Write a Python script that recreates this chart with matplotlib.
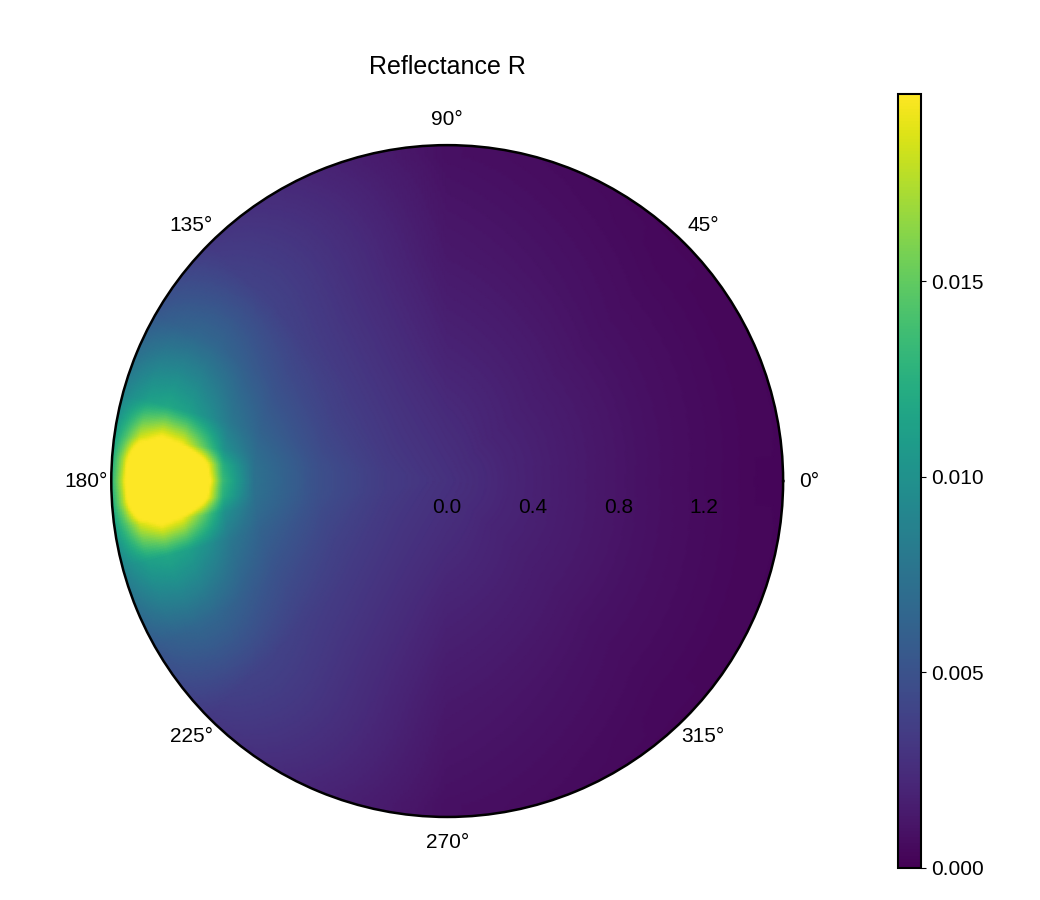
import numpy as np
import matplotlib.pyplot as plt
from matplotlib.transforms import offset_copy

plt.rcParams['font.family'] = ['Liberation Sans', 'DejaVu Sans']
plt.rcParams['font.size'] = 15

# radial positions (incidence angle, rad) and azimuths (deg) of the estimated grid
r_vals = [0, 0.3, 0.6, 0.9, 1.05, 1.15, 1.25, 1.35, 1.45, 1.52, 1.571]
theta_deg = [0, 45, 90, 135, 150, 165, 172, 176, 180, 184, 188, 195, 210, 225, 270, 315, 360]

# reflectance, one row per azimuth
R_0   = [0.0028, 0.0020, 0.0014, 0.0009, 0.0007, 0.0006, 0.0005, 0.0004, 0.0003, 0.0003, 0.0003]
R_45  = [0.0028, 0.0020, 0.0015, 0.0010, 0.0008, 0.0007, 0.0006, 0.0005, 0.0004, 0.0004, 0.0003]
R_90  = [0.0028, 0.0024, 0.0019, 0.0015, 0.0013, 0.0012, 0.0011, 0.0010, 0.0009, 0.0008, 0.0008]
R_135 = [0.0028, 0.0030, 0.0033, 0.0036, 0.0038, 0.0039, 0.0039, 0.0038, 0.0036, 0.0034, 0.0032]
R_150 = [0.0028, 0.0032, 0.0038, 0.0048, 0.0056, 0.0062, 0.0066, 0.0066, 0.0062, 0.0058, 0.0054]
R_165 = [0.0028, 0.0034, 0.0044, 0.0062, 0.0080, 0.0098, 0.0112, 0.0118, 0.0112, 0.0100, 0.0090]
R_172 = [0.0028, 0.0035, 0.0047, 0.0070, 0.0100, 0.0150, 0.0195, 0.0210, 0.0185, 0.0140, 0.0110]
R_176 = [0.0028, 0.0035, 0.0048, 0.0073, 0.0125, 0.0225, 0.0290, 0.0300, 0.0260, 0.0170, 0.0120]
R_180 = [0.0028, 0.0035, 0.0048, 0.0074, 0.0135, 0.0250, 0.0320, 0.0330, 0.0290, 0.0180, 0.0125]
rows = [R_0, R_45, R_90, R_135, R_150, R_165, R_172, R_176, R_180,
        R_176, R_172, R_165, R_150, R_135, R_90, R_45, R_0]

r_ticks = [0.0, 0.4, 0.8, 1.2]
cbar_ticks = [0.0, 0.005, 0.010, 0.015]

# resample the estimated grid finely so the polar mesh renders round
Z = np.array(rows)
th_f = np.linspace(0, 360, 721)
r_f = np.linspace(0, 1.571, 160)
Z_t = np.array([np.interp(th_f, theta_deg, Z[:, j]) for j in range(len(r_vals))]).T
Z_f = np.array([np.interp(r_f, r_vals, row) for row in Z_t])
R, T = np.meshgrid(r_f, np.deg2rad(th_f))

fig = plt.figure(figsize=(10.4, 9.0), dpi=100)
ax = fig.add_axes([0.107, 0.092, 0.646, 0.747], projection='polar')
mesh = ax.pcolormesh(T, R, Z_f, shading='gouraud', cmap='viridis', vmin=0, vmax=0.0198)
ax.set_ylim(0, 1.571)
ax.grid(False)
ax.set_xticks(np.deg2rad(np.arange(0, 360, 45)))
ax.set_xticklabels([f"{a}°" for a in range(0, 360, 45)])
ax.tick_params(axis='x', pad=8)
ax.set_yticks([])
for r in r_ticks:
    tr = offset_copy(ax.transData, fig=fig, x=0, y=-26, units='dots')
    ax.text(0, r, f"{r:.1f}", transform=tr, ha='center', va='center')
ax.spines['polar'].set_linewidth(1.8)

fig.text(0.43, 0.925, "Reflectance R", ha='center', va='center', fontsize=18)

cax = fig.add_axes([0.863, 0.036, 0.023, 0.86])
cb = fig.colorbar(mesh, cax=cax, ticks=cbar_ticks)
cb.ax.set_yticklabels([f"{v:.3f}" for v in cbar_ticks])
cb.outline.set_linewidth(1.5)

fig.savefig("out.png", dpi=100)
